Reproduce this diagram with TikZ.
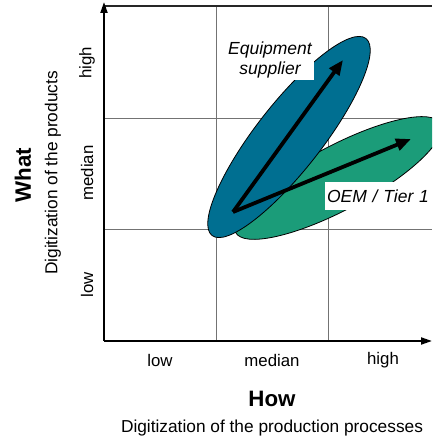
\documentclass[tikz,border=0pt]{standalone}
\usepackage{fontspec}
\setmainfont{Liberation Sans}
\usetikzlibrary{arrows.meta}
\definecolor{eqblue}{RGB}{0,111,145}
\definecolor{oemgreen}{RGB}{27,156,121}
\begin{document}
\begin{tikzpicture}[x=1pt,y=1pt,
  gridline/.style={draw=black!55,line width=0.9pt},
  axisline/.style={draw=black,line width=2pt},
  ticklbl/.style={font=\fontsize{16.8}{19}\selectfont,inner sep=0pt},
  biglbl/.style={font=\fontsize{22.3}{26}\selectfont\bfseries,inner sep=0pt},
  sublbl/.style={font=\fontsize{17.3}{20}\selectfont,inner sep=0pt},
  boxlbl/.style={fill=white,font=\fontsize{17.5}{20}\selectfont\itshape,inner sep=2pt,align=center},
  fatarrow/.style={draw=black,line width=3.8pt,-{Triangle[length=15pt,width=12pt]}},
  blob/.style={draw=black,line width=0.8pt}]
\useasboundingbox (0,0) rectangle (432,439);
% coordinates
\coordinate (o) at (104,98);
\coordinate (ytip) at (104,437);
\coordinate (xtip) at (432,98);
\coordinate (tl) at (104,433);
\coordinate (tr) at (432,433);
% grid
\draw[gridline] (216,98) -- (216,433);
\draw[gridline] (328,98) -- (328,433);
\draw[gridline] (104,321) -- (432,321);
\draw[gridline] (104,210) -- (432,210);
\draw[draw=black!85,line width=1.4pt] (tl) -- (tr);
% blobs
\begin{scope}
\clip (0,0) rectangle (432,439);
\draw[blob,fill=oemgreen] (338,261) ellipse[x radius=116,y radius=32,rotate=28];
\draw[blob,fill=eqblue] (289,302) ellipse[x radius=125,y radius=33,rotate=52];
\end{scope}
% axes
\draw[axisline,-{Triangle[length=11pt,width=7pt]}] (o) -- (ytip);
\draw[axisline,-{Triangle[length=11pt,width=7pt]}] (o) -- (xtip);
% arrows
\coordinate (start) at (233,227);
\coordinate (eqtip) at (343,379);
\coordinate (oemtip) at (411,300);
\draw[fatarrow] (start) -- (eqtip);
\draw[fatarrow] (start) -- (oemtip);
% labels
\node[boxlbl] (eq) at (270,379) {Equipment\\supplier};
\node[boxlbl,minimum height=28pt,text width=102pt] (oem) at (378,243) {OEM / Tier 1};
\node[ticklbl,rotate=90] (yhigh) at (87,376) {high};
\node[ticklbl,rotate=90] (ymed) at (87,266) {median};
\node[ticklbl,rotate=90] (ylow) at (87,154) {low};
\node[sublbl,rotate=90] (ysub) at (53,266) {Digitization of the products};
\node[biglbl,rotate=90] (what) at (23,264) {What};
\node[ticklbl] (xlow) at (160,79) {low};
\node[ticklbl] (xmed) at (272,79) {median};
\node[ticklbl] (xhigh) at (383,79) {high};
\node[biglbl] (how) at (272,40) {How};
\node[sublbl] (xsub) at (272,11) {Digitization of the production processes};
\end{tikzpicture}
\end{document}
